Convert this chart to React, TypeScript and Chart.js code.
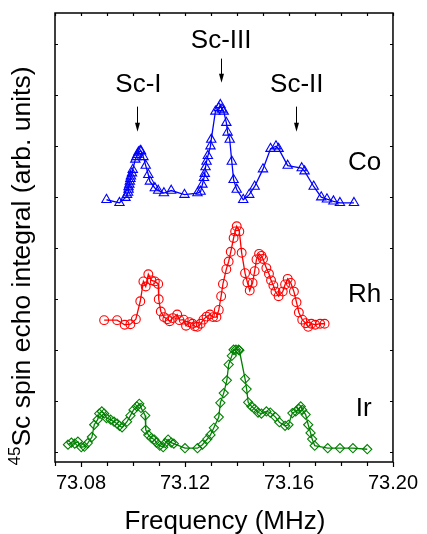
import React, { useEffect, useRef } from "react";
import { Chart, registerables } from "chart.js";

Chart.register(...registerables);

// ---- data ----
const coFreq = [73.0898, 73.0948, 73.0971, 73.0977, 73.0981, 73.0983, 73.0983, 73.0986, 73.0988, 73.099, 73.0992, 73.0996, 73.0999, 73.1009, 73.1013, 73.1017, 73.1021, 73.1028, 73.1031, 73.104, 73.1049, 73.1059, 73.1065, 73.1084, 73.1097, 73.1119, 73.1147, 73.1198, 73.1248, 73.126, 73.1267, 73.1273, 73.1276, 73.1279, 73.1283, 73.1288, 73.1298, 73.1301, 73.1317, 73.133, 73.1336, 73.1342, 73.1349, 73.1359, 73.1364, 73.1372, 73.138, 73.1387, 73.1399, 73.1424, 73.1447, 73.1468, 73.15, 73.1529, 73.155, 73.156, 73.1595, 73.1649, 73.166, 73.1695, 73.1724, 73.1746, 73.1771, 73.1796, 73.185];
const coSignal = [4.94, 4.88, 4.98, 5.04, 5.08, 5.14, 5.19, 5.24, 5.3, 5.35, 5.4, 5.46, 5.53, 5.73, 5.78, 5.82, 5.87, 5.9, 5.89, 5.78, 5.61, 5.43, 5.3, 5.17, 5.12, 5.07, 5.12, 5.04, 5.07, 5.1, 5.24, 5.37, 5.45, 5.58, 5.69, 5.8, 5.99, 6.12, 6.67, 6.74, 6.8, 6.71, 6.67, 6.45, 6.26, 6.12, 5.69, 5.33, 5.14, 4.94, 5.04, 5.2, 5.54, 5.94, 5.99, 5.94, 5.61, 5.56, 5.5, 5.2, 4.99, 4.95, 4.91, 4.88, 4.88];

const rhFreq = [73.0889, 73.0939, 73.0968, 73.099, 73.1011, 73.1028, 73.104, 73.1049, 73.1059, 73.1071, 73.1084, 73.1097, 73.1099, 73.1107, 73.1119, 73.1132, 73.1141, 73.1153, 73.117, 73.1179, 73.1195, 73.1204, 73.1217, 73.1229, 73.1238, 73.1248, 73.126, 73.1271, 73.1283, 73.1296, 73.1308, 73.1321, 73.133, 73.1339, 73.1346, 73.1359, 73.1368, 73.1376, 73.1387, 73.1393, 73.1399, 73.1409, 73.1418, 73.1431, 73.144, 73.1449, 73.146, 73.1468, 73.1475, 73.1485, 73.1494, 73.15, 73.1513, 73.1523, 73.1531, 73.154, 73.1548, 73.156, 73.1576, 73.1585, 73.1595, 73.1607, 73.1619, 73.1629, 73.1638, 73.1651, 73.1664, 73.1674, 73.1686, 73.1701, 73.172, 73.1737];
const rhSignal = [2.58, 2.58, 2.49, 2.5, 2.6, 2.95, 3.34, 3.24, 3.48, 3.36, 3.34, 3.29, 2.99, 2.75, 2.64, 2.6, 2.56, 2.62, 2.69, 2.58, 2.59, 2.47, 2.54, 2.51, 2.46, 2.45, 2.51, 2.59, 2.65, 2.69, 2.64, 2.64, 2.78, 3.05, 3.29, 3.58, 3.73, 3.92, 4.19, 4.32, 4.42, 4.32, 3.9, 3.5, 3.32, 3.16, 3.31, 3.54, 3.77, 3.88, 3.84, 3.78, 3.6, 3.49, 3.36, 3.26, 3.14, 3.05, 3.14, 3.28, 3.39, 3.31, 3.14, 2.93, 2.73, 2.59, 2.52, 2.45, 2.51, 2.49, 2.51, 2.51];

const irFreq = [73.075, 73.0763, 73.0776, 73.0788, 73.0801, 73.0813, 73.0826, 73.0842, 73.0851, 73.0864, 73.087, 73.088, 73.0889, 73.0898, 73.0914, 73.0927, 73.0939, 73.0948, 73.0958, 73.0977, 73.099, 73.1002, 73.1015, 73.1024, 73.1031, 73.1047, 73.1049, 73.1059, 73.1071, 73.1082, 73.109, 73.1103, 73.1116, 73.1124, 73.1135, 73.1147, 73.1157, 73.12, 73.1248, 73.1267, 73.1286, 73.1298, 73.1311, 73.133, 73.1336, 73.1349, 73.1361, 73.1368, 73.138, 73.1387, 73.1396, 73.1406, 73.1409, 73.1431, 73.1437, 73.1443, 73.1456, 73.1468, 73.1481, 73.1494, 73.1513, 73.1528, 73.1548, 73.1563, 73.1585, 73.1598, 73.1613, 73.1626, 73.1638, 73.1645, 73.1651, 73.1664, 73.1674, 73.1683, 73.1689, 73.1699, 73.1749, 73.1796, 73.1846, 73.1901];
const irSignal = [0.14, 0.18, 0.16, 0.2, 0.09, 0.1, 0.17, 0.29, 0.53, 0.63, 0.75, 0.79, 0.75, 0.66, 0.63, 0.59, 0.55, 0.51, 0.48, 0.59, 0.71, 0.82, 0.89, 0.94, 0.86, 0.71, 0.43, 0.33, 0.27, 0.24, 0.18, 0.12, 0.09, 0.17, 0.24, 0.18, 0.16, 0.07, 0.07, 0.14, 0.25, 0.33, 0.47, 0.68, 0.96, 1.15, 1.4, 1.71, 1.88, 2.0, 2.0, 2.0, 1.99, 1.43, 1.23, 0.97, 0.89, 0.84, 0.77, 0.75, 0.79, 0.77, 0.68, 0.58, 0.51, 0.53, 0.76, 0.79, 0.84, 0.89, 0.82, 0.73, 0.53, 0.37, 0.25, 0.12, 0.07, 0.07, 0.07, 0.05];

const xTickValues = [73.07, 73.08, 73.09, 73.1, 73.11, 73.12, 73.13, 73.14, 73.15, 73.16, 73.17, 73.18, 73.19, 73.2];
const xTickLabels = ["73.08", "73.12", "73.16", "73.20"];
const yTickValues = [0, 1, 2, 3, 4, 5, 6, 7, 8];

const peakLabels = ["Sc-I", "Sc-III", "Sc-II"];
const peakLabelFreq = [73.1021, 73.1339, 73.163];
const peakLabelLevel = [7.045, 7.916, 7.045];
const arrowFreq = [73.1015, 73.134, 73.1626];
const arrowStart = [6.765, 7.706, 6.765];
const arrowTip = [6.275, 7.235, 6.275];

const sampleLabels = ["Co", "Rh", "Ir"];
const sampleLabelFreq = [73.1827, 73.1827, 73.1857];
const sampleLabelLevel = [5.53, 2.94, 0.71];

const xTitle = "Frequency (MHz)";
const yTitleSup = "45";
const yTitleMain = "Sc spin echo integral (arb. units)";

const FONT = "'Liberation Sans', Arial, sans-serif";

const toPoints = (xs: number[], ys: number[]) => xs.map((x, i) => ({ x, y: ys[i] }));

const decorPlugin = {
  id: "decor",
  afterDraw(chart: any) {
    const { ctx, chartArea } = chart;
    const xs = chart.scales.x;
    const ys = chart.scales.y;
    const { left, right, top, bottom } = chartArea;
    ctx.save();
    ctx.strokeStyle = "#000";
    ctx.fillStyle = "#000";
    // frame
    ctx.lineWidth = 1.5;
    ctx.strokeRect(left, top, right - left, bottom - top);
    // ticks
    ctx.lineWidth = 1.2;
    ctx.beginPath();
    xTickValues.forEach((v) => {
      const px = Math.round(xs.getPixelForValue(v)) + 0.5;
      const major = xTickLabels.some((l) => Math.abs(parseFloat(l) - v) < 1e-6);
      ctx.moveTo(px, bottom);
      ctx.lineTo(px, bottom + (major ? 5 : 4));
      ctx.moveTo(px, top);
      ctx.lineTo(px, top + 3);
    });
    yTickValues.forEach((v) => {
      const py = Math.round(ys.getPixelForValue(v)) + 0.5;
      ctx.moveTo(left, py);
      ctx.lineTo(left + 3, py);
      ctx.moveTo(right, py);
      ctx.lineTo(right - 3, py);
    });
    ctx.stroke();

    // axis titles
    ctx.textBaseline = "alphabetic";
    ctx.font = `26px ${FONT}`;
    ctx.textAlign = "center";
    ctx.fillText(xTitle, (left + right) / 2 + 1, 529);

    ctx.save();
    ctx.translate(30, 266);
    ctx.rotate(-Math.PI / 2);
    ctx.textAlign = "left";
    ctx.font = `17px ${FONT}`;
    const supW = ctx.measureText(yTitleSup).width;
    ctx.font = `26.5px ${FONT}`;
    const mainW = ctx.measureText(yTitleMain).width;
    const start = -(supW + mainW) / 2;
    ctx.font = `17px ${FONT}`;
    ctx.fillText(yTitleSup, start, -10);
    ctx.font = `26.5px ${FONT}`;
    ctx.fillText(yTitleMain, start + supW, 0);
    ctx.restore();

    // peak labels and arrows
    ctx.font = `26px ${FONT}`;
    ctx.textAlign = "center";
    peakLabels.forEach((t, i) => {
      ctx.fillText(t, xs.getPixelForValue(peakLabelFreq[i]), ys.getPixelForValue(peakLabelLevel[i]));
      const ax = Math.round(xs.getPixelForValue(arrowFreq[i])) + 0.5;
      const y0 = ys.getPixelForValue(arrowStart[i]);
      const y1 = ys.getPixelForValue(arrowTip[i]);
      ctx.lineWidth = 1;
      ctx.beginPath();
      ctx.moveTo(ax, y0);
      ctx.lineTo(ax, y1 - 6);
      ctx.stroke();
      ctx.beginPath();
      ctx.moveTo(ax - 2.5, y1 - 9);
      ctx.lineTo(ax + 2.5, y1 - 9);
      ctx.lineTo(ax, y1);
      ctx.closePath();
      ctx.fill();
    });

    ctx.textAlign = "left";
    sampleLabels.forEach((t, i) => {
      ctx.fillText(t, xs.getPixelForValue(sampleLabelFreq[i]), ys.getPixelForValue(sampleLabelLevel[i]));
    });
    ctx.restore();
  },
};

export default function App() {
  const ref = useRef<HTMLCanvasElement | null>(null);
  useEffect(() => {
    if (!ref.current) return;
    const common = {
      borderWidth: 1.3,
      pointBorderWidth: 1.1,
      pointBackgroundColor: "rgba(255,255,255,0)",
      tension: 0,
      fill: false,
    };
    const chart = new Chart(ref.current, {
      type: "line",
      data: {
        datasets: [
          {
            ...common,
            label: "Co",
            data: toPoints(coFreq, coSignal),
            borderColor: "#0000ff",
            pointBorderColor: "#0000ff",
            pointStyle: "triangle",
            pointRadius: 5.4,
          },
          {
            ...common,
            label: "Rh",
            data: toPoints(rhFreq, rhSignal),
            borderColor: "#ff0000",
            pointBorderColor: "#ff0000",
            pointStyle: "circle",
            pointRadius: 4.4,
          },
          {
            ...common,
            label: "Ir",
            data: toPoints(irFreq, irSignal),
            borderColor: "#008000",
            pointBorderColor: "#008000",
            pointStyle: "rectRot",
            pointRadius: 4.6,
          },
        ],
      } as any,
      options: {
        animation: false,
        responsive: true,
        maintainAspectRatio: false,
        layout: { padding: { top: 13, right: 28, left: 0, bottom: 0 } },
        plugins: { legend: { display: false }, tooltip: { enabled: false } },
        scales: {
          x: {
            type: "linear",
            min: 73.07,
            max: 73.2,
            afterBuildTicks: (s: any) => {
              s.ticks = xTickValues.map((v) => ({ value: v }));
            },
            afterFit: (s: any) => {
              s.height = 72;
            },
            ticks: {
              autoSkip: false,
              maxRotation: 0,
              padding: 9,
              color: "#000",
              font: { family: FONT, size: 20 },
              callback: (v: any) => {
                const l = xTickLabels.find((t) => Math.abs(parseFloat(t) - Number(v)) < 1e-6);
                return l ?? "";
              },
            },
            grid: { display: false, drawTicks: false },
            border: { display: false },
          },
          y: {
            type: "linear",
            min: -0.2,
            max: 8.6,
            afterFit: (s: any) => {
              s.width = 55;
            },
            ticks: { display: false },
            grid: { display: false, drawTicks: false },
            border: { display: false },
          },
        },
      } as any,
      plugins: [decorPlugin],
    });
    return () => chart.destroy();
  }, []);
  return (
    <div style={{ position: "fixed", left: 0, top: 0, width: 427, height: 534, background: "#fff" }}>
      <canvas ref={ref} />
    </div>
  );
}
